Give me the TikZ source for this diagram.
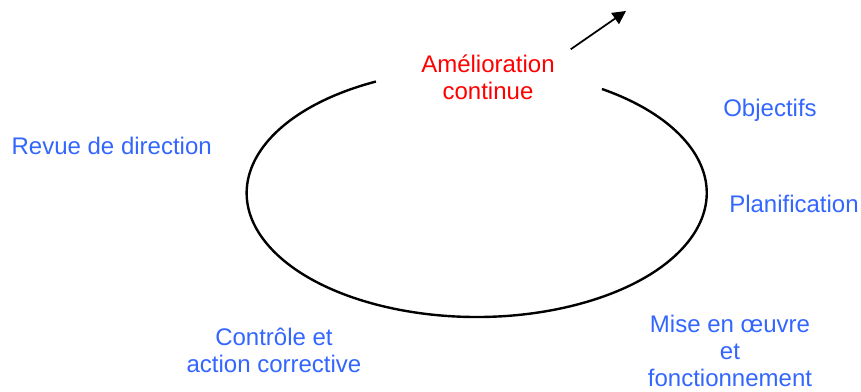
\documentclass[tikz,border=0pt]{standalone}
\usepackage{fontspec}
\setmainfont{Liberation Sans}
\usetikzlibrary{arrows.meta}
\definecolor{cycleblue}{RGB}{51,102,255}
\definecolor{cyclered}{RGB}{255,0,0}
\begin{document}
\begin{tikzpicture}[x=0.75pt,y=0.75pt,
  lbl/.style={text=cycleblue, font=\fontsize{18}{20.5}\selectfont, inner sep=0pt, anchor=base}]
\useasboundingbox (0,0) rectangle (861,392);
% ---- the cycle, open at the top ----
\draw[line width=1.8pt] (476.7,199) ++(116:230 and 124)
  arc[start angle=116, end angle=417, x radius=230, y radius=124];
% ---- arrow out of the gap ----
\coordinate (out1) at (570.7,342.7);
\coordinate (out2) at (626,381);
\draw[line width=1.3pt, -{Triangle[length=10pt,width=10pt]}] (out1) -- (out2);
% ---- labels (base = last line) ----
\node[lbl, text=cyclered, align=center] (amel) at (488,292) {Amélioration\\continue};
\node[lbl] (obj) at (770,275.3) {Objectifs};
\node[lbl] (plan) at (794,179) {Planification};
\node[lbl, align=center] (mise) at (730,5) {Mise en œuvre\\et\\fonctionnement};
\node[lbl, align=center] (ctrl) at (274,19) {Contrôle et\\action corrective};
\node[lbl] (revue) at (111.7,237) {Revue de direction};
\end{tikzpicture}
\end{document}
